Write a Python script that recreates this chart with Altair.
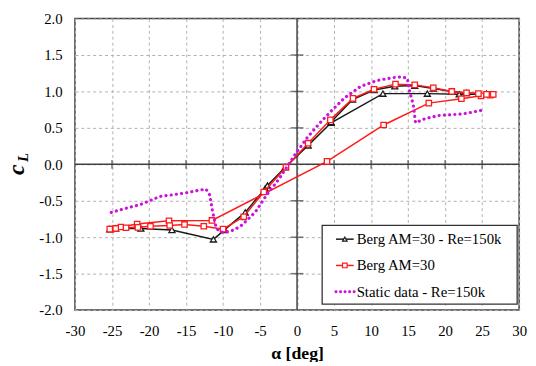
import altair as alt
import pandas as pd

# ---------------- data ----------------
berg_re_alpha = [-25.3, -24.5, -21.1, -16.9, -11.3, -9.8, -7.0, -4.3, -4.0, -1.6, 1.5, 4.6,
                 11.6, 17.6, 21.9, 26.2,
                 25.6, 22.9, 20.9, 18.4, 15.9, 13.2, 10.4, 7.5, 4.6]
berg_re_cl = [-0.89, -0.88, -0.88, -0.90, -1.03, -0.90, -0.66, -0.33, -0.29, -0.04, 0.26, 0.57,
              0.97, 0.97, 0.96, 0.96,
              0.97, 0.98, 1.00, 1.04, 1.08, 1.07, 1.02, 0.89, 0.58]

berg_alpha = [-25.1, -23.8, -21.6, -17.3, -11.5, 4.05, 11.7, 17.8, 22.2, 24.85, 26.1, 26.5,
              25.6, 24.5, 22.9, 20.9, 18.4, 15.9, 13.3, 10.4, 7.55, 4.5, 1.5, -1.5, -4.5,
              -7.2, -10.0, -12.6, -15.2, -17.2, -19.8, -21.5, -23.1, -24.5, -25.3]
berg_cl = [-0.89, -0.86, -0.82, -0.775, -0.77, 0.04, 0.54, 0.84, 0.90, 0.94, 0.95, 0.96,
           0.96, 0.97, 0.98, 1.00, 1.05, 1.09, 1.10, 1.03, 0.905, 0.61, 0.29, -0.04, -0.38,
           -0.72, -0.89, -0.85, -0.825, -0.84, -0.85, -0.865, -0.87, -0.88, -0.89]

static_alpha = [-25.1, -23.0, -21.1, -18.5, -16.9, -14.9, -13.5, -12.3, -11.8, -11.5, -11.2,
                -10.9, -10.3, -9.6, -8.5, -7.4, -5.6, -4.1, -2.5, -1.4, -0.1, 1.4, 3.2, 4.6,
                6.4, 8.6, 10.8, 13.0, 14.1, 14.9, 15.2, 15.7, 16.0, 17.4, 19.2, 22.3, 24.9]
static_cl = [-0.66, -0.60, -0.55, -0.44, -0.42, -0.39, -0.36, -0.34, -0.42, -0.60, -0.75,
             -0.88, -0.93, -0.93, -0.90, -0.83, -0.65, -0.42, -0.21, -0.04, 0.16, 0.37, 0.58, 0.73,
             0.91, 1.07, 1.15, 1.19, 1.20, 1.18, 1.00, 0.82, 0.57, 0.63, 0.67, 0.69, 0.74]

series_names = ["Berg AM=30 - Re=150k", "Berg AM=30", "Static data - Re=150k"]
x_ticks = [-30, -25, -20, -15, -10, -5, 0, 5, 10, 15, 20, 25, 30]
y_ticks = [-2.0, -1.5, -1.0, -0.5, 0.0, 0.5, 1.0, 1.5, 2.0]

# ---------------- styles ----------------
BLACK = "#1a1a1a"
RED = "#ff1a1a"
MAG = "#cc11dd"
AXC = "#404040"
FONT = "Liberation Serif"

xs = alt.Scale(domain=[-30, 30], nice=False, zero=False)
ys = alt.Scale(domain=[-2, 2], nice=False, zero=False)

x_axis = alt.Axis(
    values=x_ticks, title="α [deg]", ticks=False, domain=False, labelPadding=14,
    labelOverlap=False, labelFlush=False,
    labelExpr="replace(format(datum.value, 'd'), '\u2212', '-')",
    titleFontSize=18, titleFontWeight="bold", titlePadding=6,
    grid=True)
y_axis = alt.Axis(
    values=y_ticks, title="c", ticks=False, domain=False, labelPadding=13,
    labelOverlap=False, labelFlush=False,
    labelExpr="replace(format(datum.value, '.1f'), '\u2212', '-')", grid=True,
    titleFontSize=24, titleFontWeight="bold", titleFontStyle="italic",
    titleX=-52, titleY=153, titleAngle=270, titleAlign="center", titleBaseline="alphabetic")

X = alt.X("a:Q", scale=xs, axis=x_axis)
Y = alt.Y("cl:Q", scale=ys, axis=y_axis)

def mk(a, c):
    return pd.DataFrame({"a": a, "cl": c, "i": list(range(len(a)))})

d_black = mk(berg_re_alpha, berg_re_cl)
d_red = mk(berg_alpha, berg_cl)
d_static = mk(static_alpha, static_cl)

zero_v = alt.Chart(pd.DataFrame({"a": [0.0]})).mark_rule(color=AXC, strokeWidth=1.5).encode(x=X)
zero_h = alt.Chart(pd.DataFrame({"cl": [0.0]})).mark_rule(color=AXC, strokeWidth=1.5).encode(y=Y)

xt_df = pd.DataFrame({"a": [v for v in x_ticks if abs(v) < 30 and v != 0]})
xt_df["cl"] = 0.0
yt_df = pd.DataFrame({"cl": [v for v in y_ticks if abs(v) < 2 and v != 0]})
yt_df["a"] = 0.0
ticks_x = alt.Chart(xt_df).mark_tick(orient="vertical", size=9, thickness=1.5, color=AXC).encode(x=X, y=Y)
ticks_y = alt.Chart(yt_df).mark_tick(orient="horizontal", size=13, thickness=1.5, color=AXC).encode(x=X, y=Y)

def series(df, color, shape, width, psize):
    ln = alt.Chart(df).mark_line(color=color, strokeWidth=width).encode(x=X, y=Y, order="i:Q")
    pt = alt.Chart(df).mark_point(shape=shape, filled=True, fill="white", stroke=color,
                                  strokeWidth=1.3, size=psize, opacity=1).encode(x=X, y=Y)
    return ln, pt

bl, bp = series(d_black, BLACK, "triangle-up", 1.5, 38)
rl, rp = series(d_red, RED, "square", 1.5, 30)
st = alt.Chart(d_static).mark_line(color=MAG, strokeWidth=3.2, strokeDash=[0.1, 5.2],
                                   strokeCap="round").encode(x=X, y=Y, order="i:Q")

one = pd.DataFrame({"t": ["c"]})
l_txt = alt.Chart(one).mark_text(font=FONT, fontSize=15, fontWeight="bold", fontStyle="italic",
                                 angle=270, baseline="middle", color="black").encode(
    x=alt.value(-53), y=alt.value(141), text=alt.value("L"))

leg_box = alt.Chart(one).mark_rect(fill="white", stroke="#333333", strokeWidth=1.3).encode(
    x=alt.value(251), x2=alt.value(449), y=alt.value(210), y2=alt.value(290))
leg_layers = [leg_box]
styles = [(BLACK, "triangle-up", None), (RED, "square", None), (MAG, None, [0.1, 4.5])]
for k, (name, (col, shp, dash)) in enumerate(zip(series_names, styles)):
    yy = 224 + k * 26.7
    if dash is None:
        leg_layers.append(alt.Chart(one).mark_rule(color=col, strokeWidth=1.5).encode(
            x=alt.value(265), x2=alt.value(283), y=alt.value(yy)))
        leg_layers.append(alt.Chart(one).mark_point(shape=shp, filled=True, fill="white", stroke=col,
                                                    strokeWidth=1.2, size=22, opacity=1).encode(
            x=alt.value(274), y=alt.value(yy)))
    else:
        leg_layers.append(alt.Chart(one).mark_rule(color=col, strokeWidth=3, strokeDash=dash,
                                                   strokeCap="round").encode(
            x=alt.value(265), x2=alt.value(284), y=alt.value(yy)))
    leg_layers.append(alt.Chart(one).mark_text(font=FONT, fontSize=15, align="left",
                                               baseline="middle", color="black").encode(
        x=alt.value(286), y=alt.value(yy), text=alt.value(name)))

chart = alt.layer(zero_v, zero_h, ticks_x, ticks_y, bl, bp, rl, rp, st,
                  l_txt, *leg_layers).properties(
    width=451, height=296,
    autosize=alt.AutoSizeParams(type="none"),
    padding={"left": 68, "top": 8, "right": 9, "bottom": 50},
).configure_view(stroke=AXC, strokeWidth=1.5).configure_axis(
    labelFont=FONT, titleFont=FONT,
    labelFontSize=15, labelColor="black",
    gridColor="#b0b0b0", gridDash=[3, 3], gridWidth=1,
    titleColor="black")

chart.save("out.html", embed_options={"renderer": "svg", "actions": False})
